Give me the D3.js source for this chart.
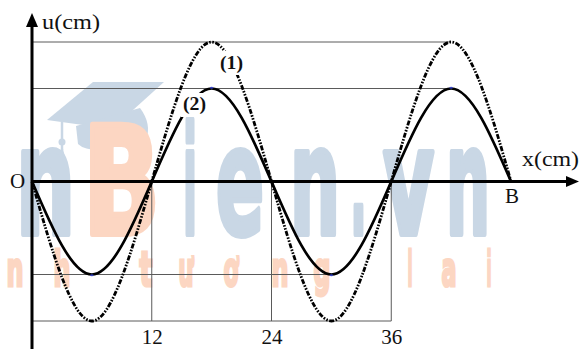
<!DOCTYPE html>
<html>
<head>
<meta charset="utf-8">
<script src="https://cdn.jsdelivr.net/npm/d3@7"></script>
<style>
  html, body { margin: 0; padding: 0; background: #fff; }
  svg { display: block; }
</style>
</head>
<body>
<svg id="chart" width="585" height="349"></svg>
<script>
// Data
const wavePos = [0, 6, 12, 18, 24, 30, 36, 42, 48];   // x (cm): zeros and extrema
const wave1U = [0, -3, 0, 3, 0, -3, 0, 3, 0];          // curve (1), dash-dot
const wave2U = [0, -2, 0, 2, 0, -2, 0, 2, 0];          // curve (2), solid
const xTicks = [12, 24, 36];
const hGridU = [3, 2, -2, -3];                         // levels of the horizontal guides
const hGridTo = [42, 42, 30, 36];                      // guide ends at this x
const vGridX = [12, 24, 36];

// watermark letters
const markLetters = ['n', 'B', 'i', 'e', 'n', '.', 'v', 'n'];
const markLeft = [13, 80, 180, 213, 287, 347, 380, 443];
const markRight = [78, 163, 200, 267, 343, 370, 437, 493];
const tagLetters = ['n', 'h', 't', 'ư', 'ơ', 'n', 'g', 'l', 'a', 'i'];
const tagLeft = [5, 52, 138, 177, 222, 270, 312, 406, 440, 485];
const tagRight = [25, 72, 154, 195, 240, 290, 332, 414, 458, 493];

const width = 585, height = 349;
const translate = (x, y) => `translate(${x}, ${y})`;

const svg = d3.select('#chart');

const x = d3.scaleLinear().domain([0, 48]).range([32, 511]);
const y = d3.scaleLinear().domain([-3, 3]).range([321, 42]);

const blueMark = '#c9d7e5';
const orangeMark = '#fcd6c2';
const markFont = '"Liberation Sans Narrow", "DejaVu Sans Condensed", "Liberation Sans", sans-serif';

// Watermark
const mark = svg.append('g').attr('class', 'watermark');

// graduation cap
mark.append('path')
    .attr('d', 'M93,82 L164,82 L112,129 L47,120 Z')
    .attr('fill', blueMark);
mark.append('path')
    .attr('d', 'M76,126 L140,108 Q152,124 146,140 Q120,146 100,150 Q84,150 78,144 Z')
    .attr('fill', blueMark);
mark.append('line')
    .attr('x1', 62).attr('y1', 122).attr('x2', 62).attr('y2', 150)
    .attr('stroke', blueMark).attr('stroke-width', 2.5);
mark.append('circle').attr('cx', 62).attr('cy', 142).attr('r', 3.5).attr('fill', blueMark);
mark.append('path')
    .attr('d', 'M62,144 L67,167 L57,167 Z')
    .attr('fill', blueMark);

mark.selectAll('text.big')
    .data(markLetters)
    .join('text')
    .attr('class', 'big')
    .attr('x', (d, i) => markLeft[i] + 3)
    .attr('y', 234)
    .attr('textLength', (d, i) => markRight[i] - markLeft[i] - 6)
    .attr('lengthAdjust', 'spacingAndGlyphs')
    .attr('font-family', markFont)
    .attr('font-weight', 'bold')
    .attr('font-size', 150)
    .attr('fill', d => d === 'B' ? orangeMark : blueMark)
    .attr('stroke', d => d === 'B' ? orangeMark : blueMark)
    .attr('stroke-width', 6)
    .attr('stroke-linejoin', 'round')
    .text(d => d);

mark.selectAll('text.tag')
    .data(tagLetters)
    .join('text')
    .attr('class', 'tag')
    .attr('x', (d, i) => tagLeft[i] + 1.5)
    .attr('y', 286)
    .attr('textLength', (d, i) => tagRight[i] - tagLeft[i] - 3)
    .attr('lengthAdjust', 'spacingAndGlyphs')
    .attr('font-family', markFont)
    .attr('font-weight', 'bold')
    .attr('font-size', 48)
    .attr('fill', orangeMark)
    .attr('stroke', orangeMark)
    .attr('stroke-width', 3)
    .text(d => d);

// Guide lines
const grid = svg.append('g').attr('stroke', '#5a5a5a').attr('stroke-width', 1);
grid.selectAll('line.h')
    .data(hGridU)
    .join('line')
    .attr('class', 'h')
    .attr('x1', x(0))
    .attr('x2', (d, i) => x(hGridTo[i]))
    .attr('y1', d => y(d))
    .attr('y2', d => y(d));
grid.selectAll('line.v')
    .data(vGridX)
    .join('line')
    .attr('class', 'v')
    .attr('x1', d => x(d))
    .attr('x2', d => x(d))
    .attr('y1', y(0))
    .attr('y2', y(-3));

// Waves
const line = d3.line()
    .x((d, i) => x(wavePos[i]))
    .y(d => y(d))
    .curve(d3.curveNatural);

svg.append('path')
    .datum(wave1U)
    .attr('d', line)
    .attr('fill', 'none')
    .attr('stroke', '#000')
    .attr('stroke-width', 2.8)
    .attr('stroke-dasharray', '5 1.5 1.6 1.5 1.6 1.5');

svg.append('path')
    .datum(wave2U)
    .attr('d', line)
    .attr('fill', 'none')
    .attr('stroke', '#000')
    .attr('stroke-width', 2.7);

// small blue marks at the points of curve (2)
svg.append('g')
    .selectAll('ellipse')
    .data(wave2U.slice(1))
    .join('ellipse')
    .attr('cx', (d, i) => x(wavePos[i + 1]))
    .attr('cy', d => y(d) + (d > 0 ? -0.8 : d < 0 ? 0.8 : 0))
    .attr('rx', 1.8)
    .attr('ry', 1)
    .attr('fill', '#3344dd')
    .attr('opacity', 0.8);

// Axes lines with arrow heads
svg.append('line')
    .attr('x1', x(0)).attr('x2', x(0))
    .attr('y1', height).attr('y2', 22)
    .attr('stroke', '#000').attr('stroke-width', 3);
svg.append('path')
    .attr('d', `M${x(0)},13 L${x(0) + 6},27 L${x(0) - 6},27 Z`)
    .attr('fill', '#000');

svg.append('line')
    .attr('x1', x(0)).attr('x2', 570)
    .attr('y1', y(0)).attr('y2', y(0))
    .attr('stroke', '#000').attr('stroke-width', 3);
svg.append('path')
    .attr('d', `M579,${y(0)} L566,${y(0) - 5.5} L566,${y(0) + 5.5} Z`)
    .attr('fill', '#000');

// Tick labels
const serif = '"Liberation Serif", "Times New Roman", Times, serif';
const xAxis = d3.axisBottom(x).tickValues(xTicks).tickSize(0).tickPadding(0);
const axisG = svg.append('g')
    .attr('transform', translate(0, 329))
    .call(xAxis);
axisG.select('.domain').remove();
axisG.selectAll('text')
    .attr('font-family', serif)
    .attr('font-size', 21)
    .attr('fill', '#111');

// Text labels
const addText = (txt, tx, ty, opts = {}) => {
    const t = svg.append('text')
        .attr('x', tx)
        .attr('y', ty)
        .attr('font-family', serif)
        .attr('font-size', opts.size || 21)
        .attr('font-weight', opts.weight || 'normal')
        .attr('text-anchor', opts.anchor || 'start')
        .attr('fill', '#111')
        .text(txt);
    if (opts.len) t.attr('textLength', opts.len).attr('lengthAdjust', 'spacingAndGlyphs');
    return t;
};

// white knock-out behind the curve labels
svg.append('rect').attr('x', 218).attr('y', 51).attr('width', 27).attr('height', 24).attr('fill', '#fff');
svg.append('rect').attr('x', 181).attr('y', 93).attr('width', 27).attr('height', 24).attr('fill', '#fff');

addText('u(cm)', 42, 29, { len: 58 });
addText('x(cm)', 522, 166, { len: 57 });
addText('O', 17.5, 188, { anchor: 'middle' });
addText('B', 512, 203, { anchor: 'middle' });
addText('(1)', 220, 69, { size: 18, weight: 'bold', len: 23 });
addText('(2)', 183, 110, { size: 18, weight: 'bold', len: 23 });
</script>
</body>
</html>
